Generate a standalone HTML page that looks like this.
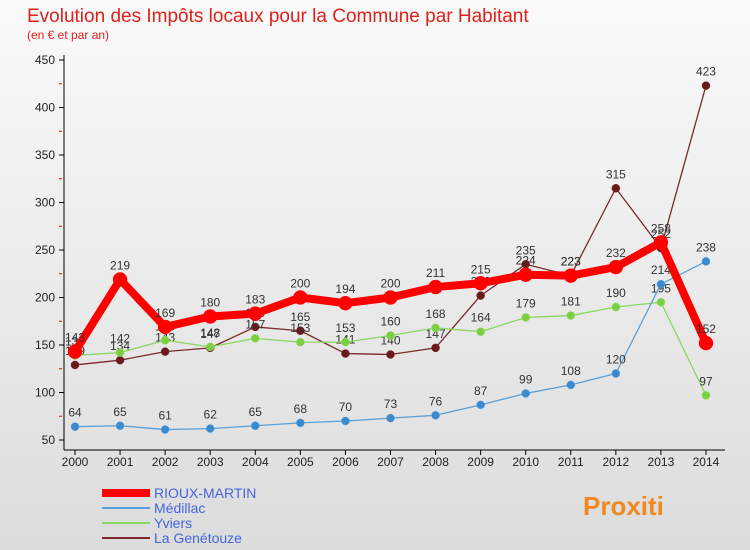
<!DOCTYPE html>
<html><head><meta charset="utf-8"><style>
body{margin:0;background:#fff;font-family:"Liberation Sans",sans-serif}
#wrap{position:relative;width:750px;height:550px;overflow:hidden;background:linear-gradient(#fafafa,#dcdcdc)}
</style></head><body>
<div id="wrap">
<svg id="c" width="750" height="550"></svg>
</div>
<script>
const years=[2000,2001,2002,2003,2004,2005,2006,2007,2008,2009,2010,2011,2012,2013,2014];
const rioux=[143,219,169,180,183,200,194,200,211,215,224,223,232,258,152];
const medillac=[64,65,61,62,65,68,70,73,76,87,99,108,120,214,238];
const yviers=[139,142,155,148,157,153,153,160,168,164,179,181,190,195,97];
const genetouze=[129,134,143,147,169,165,141,140,147,202,235,223,315,252,423];
const yTicks=[50,100,150,200,250,300,350,400,450];
const NS="http://www.w3.org/2000/svg";
const svg=document.getElementById('c');
const X=i=>75+i*45.07;
const Y=v=>440-(v-50)*0.95;
function mk(t,a,p){const e=document.createElementNS(NS,t);for(const k in a)e.setAttribute(k,a[k]);(p||svg).appendChild(e);return e;}
let t=mk('text',{x:27,y:22,'font-size':19,fill:'#e0201a'});t.textContent='Evolution des Impôts locaux pour la Commune par Habitant';

t=mk('text',{x:27,y:39,'font-size':12,fill:'#e0201a'});t.textContent='(en € et par an)';

// axes
let ax=mk('line',{x1:64,y1:55,x2:64,y2:450,stroke:'#000'});
ax=mk('line',{x1:64,y1:450,x2:725,y2:450,stroke:'#000'});
yTicks.forEach(v=>{const y=Y(v);mk('line',{x1:59,y1:y,x2:64,y2:y,stroke:'#000'});
 if(v<450)mk('line',{x1:59,y1:Y(v+25),x2:62,y2:Y(v+25),stroke:'#e00'});
 const l=mk('text',{x:55,y:y+4,'font-size':12,'text-anchor':'end',fill:'#222'});l.textContent=v;
 });
years.forEach((yr,i)=>{const x=X(i);mk('line',{x1:x,y1:450,x2:x,y2:455,stroke:'#000'});
 const l=mk('text',{x:x,y:466,'font-size':12,'text-anchor':'middle',fill:'#222'});l.textContent=yr;
 });
function series(data,color,dot,w,r,name){
 const g=mk('g',{});
 mk('polyline',{points:data.map((v,i)=>X(i)+','+Y(v)).join(' '),fill:'none',stroke:color,'stroke-width':w,'stroke-linejoin':'round'},g);
 data.forEach((v,i)=>{const c=mk('circle',{cx:X(i),cy:Y(v),r:r,fill:dot,stroke:color,'stroke-width':0.5},g);
  
  const l=mk('text',{x:X(i),y:Y(v)-10,'font-size':12,'text-anchor':'middle',fill:'#333'},g);l.textContent=v;});
}
series(genetouze,'#7a2a2a','#6a1a1a',1.3,4,'la-genetouze');
series(yviers,'#8ad860','#7ad040',1.3,4,'yviers');
series(medillac,'#5aa0d8','#3a8ad0',1.3,4,'medillac');
series(rioux,'#f00','#f00',8,7,'rioux-martin');
// legend
const leg=[['RIOUX-MARTIN','#f00',8],['Médillac','#5aa0d8',2],['Yviers','#8ad860',2],['La Genétouze','#7a2a2a',2]];
leg.forEach((e,i)=>{const y=493+i*15;const g=mk('g',{});
 mk('line',{x1:102,y1:y,x2:150,y2:y,stroke:e[1],'stroke-width':e[2]},g);
 const l=mk('text',{x:154,y:y+5,'font-size':14,fill:'#4466dd'},g);l.textContent=e[0];});
t=mk('text',{x:583,y:515,'font-size':26,'font-weight':'bold',fill:'#f08a20'});t.textContent='Proxiti';

</script>
</body></html>
